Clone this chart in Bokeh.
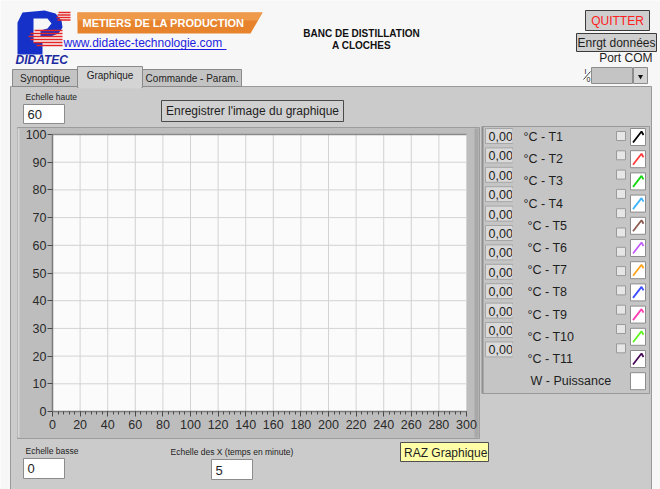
from bokeh.plotting import figure
from bokeh.models import Range1d, LinearAxis, FixedTicker
from bokeh.core.properties import value
from bokeh.embed import file_html
from bokeh.resources import INLINE

# ---------------- data ----------------
x_ticks = [0, 20, 40, 60, 80, 100, 120, 140, 160, 180, 200, 220, 240, 260, 280, 300]
x_minor_ticks = list(range(0, 301, 4))
y_ticks = [0, 10, 20, 30, 40, 50, 60, 70, 80, 90, 100]
x_min, x_max = 0, 300
y_min, y_max = 0, 100

series_labels = ["°C - T1", "°C - T2", "°C - T3", "°C - T4", "°C - T5", "°C - T6",
                 "°C - T7", "°C - T8", "°C - T9", "°C - T10", "°C - T11", "W - Puissance"]
series_colors = ["#000000", "#ff3b3b", "#14d814", "#3cb4ff", "#8c5a50", "#c25cff",
                 "#ffa31a", "#3a4cff", "#ff3cb4", "#5ef51e", "#4a0a5a", None]
indicator_values = ["0,00", "0,00", "0,00", "0,00", "0,00", "0,00",
                    "0,00", "0,00", "0,00", "0,00", "0,00", "0,00"]
tab_names = ["Synoptique", "Graphique", "Commande - Param."]
echelle_haute = "60"
echelle_basse = "0"
echelle_x = "5"

# ---------------- layout ----------------
W, H = 660, 489
OX, OY = 0, 0
CL, CR, CT, CB = 52, 466, 134, 411  # chart plot area (picture px)
sx = (x_max - x_min) / (CR - CL)
sy = (y_max - y_min) / (CB - CT)
x_range = Range1d(x_min + (OX - CL) * sx, x_min + (OX + W - CL) * sx)
y_range = Range1d(y_min + (CB - (OY + H)) * sy, y_min + (CB - OY) * sy)

p = figure(width=W, height=H, x_range=x_range, y_range=y_range,
           x_axis_type=None, y_axis_type=None, toolbar_location=None,
           output_backend="svg", min_border=0)
p.extra_x_ranges = {"px": Range1d(OX, OX + W)}
p.extra_y_ranges = {"px": Range1d(OY + H, OY)}
p.outline_line_color = None
p.background_fill_color = "#f7f7f7"
p.border_fill_color = "#f7f7f7"

PX = dict(x_range_name="px", y_range_name="px")
FONT = "Liberation Sans"


def box(l, t, r, b, fill, line=None, lw=1):
    p.quad(left=[l], right=[r], top=[t], bottom=[b], fill_color=fill,
           line_color=line, line_width=lw, **PX)


def seg(x0, y0, x1, y1, color, lw=1):
    p.segment(x0=[x0], y0=[y0], x1=[x1], y1=[y1], line_color=color, line_width=lw, **PX)


def txt(x, y, s, size=12, color="#1e1e1e", style="normal", align="left", font=FONT):
    p.text(x=[x], y=[y], text=[s], text_font=value(font), text_font_size=value(f"{size}px"),
           text_font_style=style, text_color=color, text_align=align,
           text_baseline="middle", **PX)


# ---------------- header ----------------
# logo
p.patch(x=[17, 22, 44, 55, 61, 62, 58, 50, 40, 40, 47, 51, 47, 33, 33, 42, 42, 17],
        y=[22, 12, 10, 13, 20, 27, 33, 36, 36, 30, 28, 23, 18, 18, 42, 42, 54, 54],
        fill_color="#1531c8", line_color=None, **PX)
for yy, x0 in [(12, 58), (14.5, 57), (17, 56), (19.5, 57)]:
    seg(x0, yy, 70, yy, "#e52424", 1.6)
for yy, x0 in [(30, 34), (33, 30), (36, 28), (39, 30), (42, 33), (45, 36)]:
    seg(x0, yy, 62, yy, "#e52424", 1.6)
txt(15, 59.5, "DIDATEC", 12, "#1b2aa0", "bold italic")

# orange banner
p.patch(x=[77, 262, 250, 77], y=[12, 12, 33, 33], fill_color="#e6832c", line_color=None, **PX)
p.patch(x=[77, 262, 257, 77], y=[12, 12, 20, 20], fill_color="#ef9a4a", line_color=None, **PX)
txt(82, 22.5, "METIERS DE LA PRODUCTION", 11, "#ffffff", "bold")

# link
txt(63, 42, "www.didatec-technologie.com", 12, "#1d1de0")
seg(63, 49, 226, 49, "#1d1de0", 1)

# title
txt(361, 33, "BANC DE DISTILLATION", 10, "#111111", "bold", "center")
txt(361, 45, "A CLOCHES", 10, "#111111", "bold", "center")

# buttons top right
box(585, 10, 649, 30, "#cfcfcf", "#3c3c3c")
txt(617, 20.5, "QUITTER", 12, "#ff2020", align="center")
box(576, 33, 656, 51, "#cfcfcf", "#3c3c3c")
txt(616, 42.5, "Enrgt données", 12, "#1e1e1e", align="center")
txt(652, 57, "Port COM", 12, "#1e1e1e", align="right")
# COM selector
box(591, 67, 632, 83, "#c4c4c4", "#8c8c8c")
box(633, 67, 647, 83, "#d4d4d4", "#8c8c8c")
p.scatter(x=[640], y=[76], marker="inverted_triangle", size=5, fill_color="#111111",
          line_color=None, **PX)
txt(584, 70.5, "I", 7, "#111111")
txt(586, 79, "0", 7, "#111111")
seg(583, 79, 590, 71, "#111111", 0.8)

# ---------------- tab control ----------------
box(10, 86, 651, 492, "#cbcbcb", "#9a9a9a")
tab_boxes = [(12, 69, 77), (77, 66, 142), (142, 69, 241)]
for (l, t, r), name in zip(tab_boxes, tab_names):
    active = name == "Graphique"
    box(l, t, r, 86 if not active else 87, "#d4d4d4" if active else "#c3c3c3", "#8a8a8a")
    txt((l + r) / 2, t + 8.5, name, 10, "#1e1e1e", align="center")
box(78, 85, 141, 88, "#d4d4d4")

# Echelle haute
txt(25, 96, "Echelle haute", 8.5, "#1e1e1e")
box(23, 104, 64, 123, "#ffffff", "#8c8c8c")
txt(27, 114, echelle_haute, 13, "#1e1e1e")

# save image button
box(161, 100, 343, 121, "#d0d0d0", "#4a4a4a")
txt(252, 110.5, "Enregistrer l'image du graphique", 12, "#1e1e1e", align="center")

# chart bezel
box(17, 127, 479, 438, "#bdbdbd", "#9c9c9c")
seg(18, 128, 18, 437, "#d6d6d6", 2)
seg(476, 128, 476, 437, "#a8a8a8", 4)

# plot area (data coords)
p.quad(left=[x_min], right=[x_max], bottom=[y_min], top=[y_max],
       fill_color="#fbfbfb", line_color=None)
p.segment(x0=x_ticks, y0=[y_min] * len(x_ticks), x1=x_ticks, y1=[y_max] * len(x_ticks),
          line_color="#d3d3d3", line_width=1)
p.segment(x0=[x_min] * len(y_ticks), y0=y_ticks, x1=[x_max] * len(y_ticks), y1=y_ticks,
          line_color="#d3d3d3", line_width=1)
p.segment(x0=[x_min], y0=[y_max], x1=[x_max], y1=[y_max], line_color="#8a8a8a", line_width=1.5)

xaxis = LinearAxis(fixed_location=y_min, bounds=(x_min, x_max),
                   ticker=FixedTicker(ticks=x_ticks, minor_ticks=x_minor_ticks))
yaxis = LinearAxis(fixed_location=x_min, bounds=(y_min, y_max),
                   ticker=FixedTicker(ticks=y_ticks))
for ax in (xaxis, yaxis):
    ax.axis_line_color = "#7a7a7a"
    ax.axis_line_width = 1.5
    ax.major_tick_line_color = "#4a4a4a"
    ax.minor_tick_line_color = "#4a4a4a"
    ax.major_tick_in = 0
    ax.minor_tick_in = 0
    ax.major_label_text_font = FONT
    ax.major_label_text_font_size = "12.5px"
    ax.major_label_text_color = "#2a2a2a"
xaxis.major_tick_out = 5
xaxis.minor_tick_out = 3
xaxis.major_label_standoff = 3
yaxis.major_tick_out = 5
yaxis.major_label_standoff = 1
p.add_layout(xaxis, "below")
p.add_layout(yaxis, "left")

# ---------------- right legend panel ----------------
box(482, 126, 649, 393, "#c5c5c5", "#9a9a9a")
seg(482, 126, 482, 393, "#8e8e8e", 2)

for i, v in enumerate(indicator_values):
    t = 128 + 19.4 * i
    box(485, t, 512, t + 15, "#d9d9d9", "#a6a6a6")
    txt(488, t + 8, v, 12.5, "#1e1e1e")
    box(511.5, t + 1, 514, t + 14.5, "#c5c5c5")

label_x = [523, 523, 523, 523, 527, 527, 527, 527, 527, 527, 527, 530]
for i, (lab, col) in enumerate(zip(series_labels, series_colors)):
    t = 128 + 22.2 * i
    txt(label_x[i], t + 8.5, lab, 12.5, "#1e1e1e")
    box(630, t, 645, t + 17, "#ffffff", "#8c8c8c")
    if col is not None:
        p.line(x=[632.5, 641, 643], y=[t + 14, t + 3, t + 6.5], line_color=col,
               line_width=1.8, **PX)

for i in range(len(series_labels)):
    t = 131 + 19.3 * i
    box(616, t, 625, t + 9, "#e6e6e6", "#9a9a9a")

# ---------------- bottom controls ----------------
txt(25, 450, "Echelle basse", 8.5, "#1e1e1e")
box(23, 458, 64, 478, "#ffffff", "#8c8c8c")
txt(27, 468, echelle_basse, 13, "#1e1e1e")

txt(170, 451, "Echelle des X (temps en minute)", 8.5, "#1e1e1e")
box(211, 459, 252, 479, "#ffffff", "#8c8c8c")
txt(215, 469.5, echelle_x, 13, "#1e1e1e")

box(400, 442, 488, 461, "#ffffa8", "#505050")
txt(403.5, 452, "RAZ Graphique", 12, "#1e1e1e")

open("out.html", "w").write(file_html(p, INLINE))
